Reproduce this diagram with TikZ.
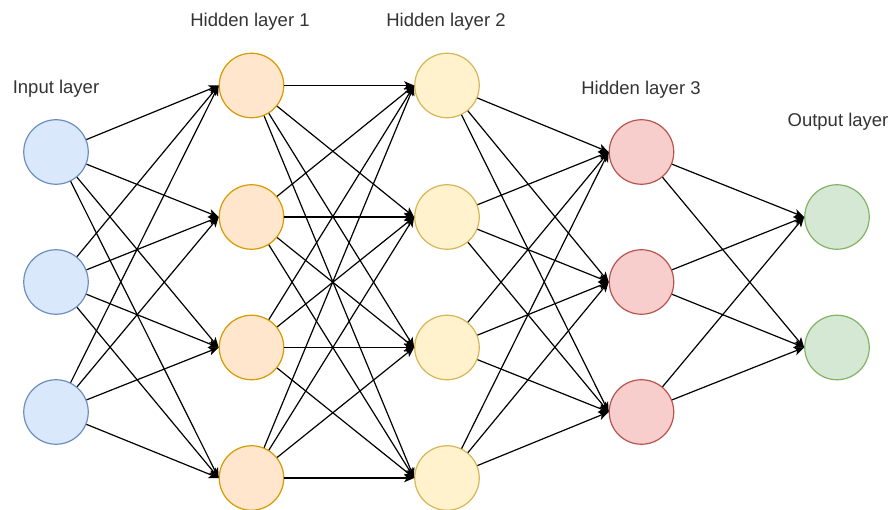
\documentclass[tikz,border=0pt]{standalone}
\usepackage{fontspec}
\setmainfont{Liberation Sans}
\usetikzlibrary{arrows.meta}
\definecolor{txtgray}{HTML}{333333}
\definecolor{inFill}{HTML}{DAE8FC}\definecolor{inDraw}{HTML}{6C8EBF}
\definecolor{hoFill}{HTML}{FFE6CC}\definecolor{hoDraw}{HTML}{D79B00}
\definecolor{htFill}{HTML}{FFF2CC}\definecolor{htDraw}{HTML}{D6B656}
\definecolor{hrFill}{HTML}{F8CECC}\definecolor{hrDraw}{HTML}{B85450}
\definecolor{ouFill}{HTML}{D5E8D4}\definecolor{ouDraw}{HTML}{82B366}
\tikzset{
  neuron/.style={circle, minimum size=64.5pt, inner sep=0pt, line width=1.2pt},
  inN/.style={neuron, fill=inFill, draw=inDraw},
  hoN/.style={neuron, fill=hoFill, draw=hoDraw},
  htN/.style={neuron, fill=htFill, draw=htDraw},
  hrN/.style={neuron, fill=hrFill, draw=hrDraw},
  ouN/.style={neuron, fill=ouFill, draw=ouDraw},
  link/.style={line width=1.2pt, black, -{Stealth[length=10pt,width=8.5pt,inset=2.5pt]}},
  caption/.style={anchor=base, text=txtgray, font=\fontsize{18.5}{20}\selectfont, inner sep=0pt}
}
\begin{document}
\begin{tikzpicture}[x=1pt,y=-1pt]
\useasboundingbox (0,0) rectangle (892,510);
% layer captions
\node[caption] (capIn) at (56,94) {Input layer};
\node[caption] (capH1) at (250,27) {Hidden layer 1};
\node[caption] (capH2) at (446,27) {Hidden layer 2};
\node[caption] (capH3) at (641,95) {Hidden layer 3};
\node[caption] (capOut) at (838,127) {Output layer};
% neurons
\foreach \i/\y in {1/152,2/282,3/412} \node[inN] (a\i) at (56,\y) {};
\foreach \i/\y in {1/85.5,2/217,3/347.5,4/478} \node[hoN] (b\i) at (251.5,\y) {};
\foreach \i/\y in {1/85.5,2/217,3/347.5,4/478} \node[htN] (c\i) at (447,\y) {};
\foreach \i/\y in {1/152,2/282,3/412} \node[hrN] (d\i) at (641.5,\y) {};
\foreach \i/\y in {1/217,2/347.5} \node[ouN] (e\i) at (837,\y) {};
% fully connected links between consecutive layers
\foreach \s in {1,2,3} \foreach \t in {1,2,3,4} \draw[link] (a\s) -- (b\t.west);
\foreach \s in {1,2,3,4} \foreach \t in {1,2,3,4} \draw[link] (b\s) -- (c\t.west);
\foreach \s in {1,2,3,4} \foreach \t in {1,2,3} \draw[link] (c\s) -- (d\t.west);
\foreach \s in {1,2,3} \foreach \t in {1,2} \draw[link] (d\s) -- (e\t.west);
\end{tikzpicture}
\end{document}
